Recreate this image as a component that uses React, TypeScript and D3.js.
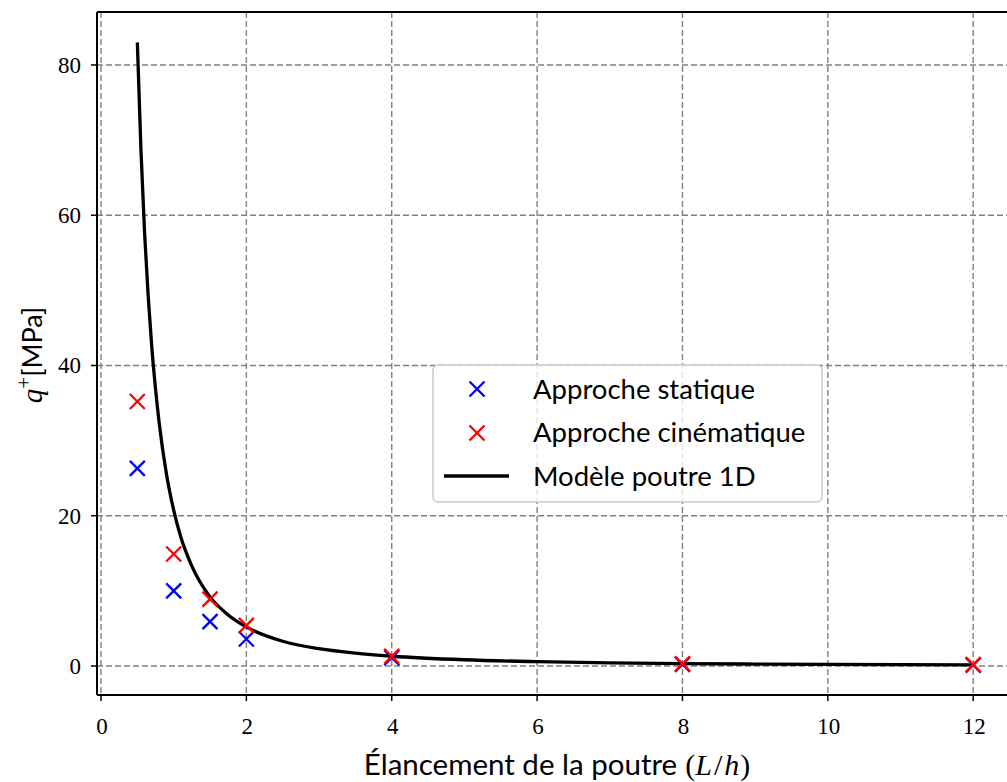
import React from "react";
import * as d3 from "d3";

const staticX = [0.5, 1, 1.5, 2, 4, 8, 12];
const staticY = [26.3, 10.0, 5.9, 3.6, 1.1, 0.22, 0.12];
const cineX = [0.5, 1, 1.5, 2, 4, 8, 12];
const cineY = [35.2, 14.9, 8.9, 5.4, 1.3, 0.3, 0.18];
const modelX = [0.5, 0.55, 0.6, 0.65, 0.7, 0.75, 0.8, 0.9, 1.0, 1.1, 1.25, 1.5, 1.75, 2, 2.5, 3, 3.5, 4, 5, 6, 7, 8, 9, 10, 11, 12];
const modelY = [83, 68.6, 57.6, 49.1, 42.3, 36.9, 32.4, 25.6, 20.75, 17.1, 13.3, 9.2, 6.8, 5.2, 3.3, 2.3, 1.7, 1.3, 0.83, 0.58, 0.42, 0.32, 0.26, 0.21, 0.17, 0.14];
const xTicks = [0, 2, 4, 6, 8, 10, 12];
const yTicks = [0, 20, 40, 60, 80];
const legendLabels = ["Approche statique", "Approche cinématique", "Modèle poutre 1D"];

export default function App() {
  const W = 1007, H = 782;
  const left = 97, right = 1015, top = 12, bottom = 695;
  const x = d3.scaleLinear().domain([-0.055, 12.575]).range([left, right]);
  const y = d3.scaleLinear().domain([-3.86, 87.05]).range([bottom, top]);
  const line = d3.line<number>().x((d) => x(modelX[d])).y((d) => y(modelY[d])).curve(d3.curveMonotoneX);
  const serif = "'Liberation Serif', 'DejaVu Serif', serif";
  const sans = "Lato, 'DejaVu Sans', sans-serif";
  const gridStyle = { stroke: "#808080", strokeWidth: 1.4, strokeDasharray: "6,3" };
  const cross = (cx: number, cy: number, color: string, key: string) => (
    <g key={key} stroke={color} strokeWidth={2.3}>
      <line x1={cx - 7.5} y1={cy - 7.5} x2={cx + 7.5} y2={cy + 7.5} />
      <line x1={cx - 7.5} y1={cy + 7.5} x2={cx + 7.5} y2={cy - 7.5} />
    </g>
  );
  return (
    <svg width={W} height={H} style={{ position: "absolute", left: 0, top: 0, background: "#fff" }}>
      <defs>
        <clipPath id="plot">
          <rect x={left} y={top} width={right - left} height={bottom - top} />
        </clipPath>
      </defs>
      {xTicks.map((t) => (
        <line key={"gx" + t} x1={x(t)} x2={x(t)} y1={top} y2={bottom} {...gridStyle} />
      ))}
      {yTicks.map((t) => (
        <line key={"gy" + t} x1={left} x2={right} y1={y(t)} y2={y(t)} {...gridStyle} />
      ))}
      <g clipPath="url(#plot)">
        <path d={line(modelX.map((_, i) => i)) || ""} fill="none" stroke="#000" strokeWidth={3.3} />
        {staticX.map((v, i) => cross(x(v), y(staticY[i]), "#0000ff", "s" + i))}
        {cineX.map((v, i) => cross(x(v), y(cineY[i]), "#ff0000", "c" + i))}
      </g>
      <line x1={left} x2={left} y1={top} y2={bottom} stroke="#000" strokeWidth={2} />
      <line x1={left} x2={right} y1={bottom} y2={bottom} stroke="#000" strokeWidth={2} />
      <line x1={left} x2={right} y1={top} y2={top} stroke="#000" strokeWidth={2} />
      {xTicks.map((t) => (
        <g key={"tx" + t}>
          <line x1={x(t)} x2={x(t)} y1={bottom} y2={bottom + 6} stroke="#000" strokeWidth={1.5} />
          <text x={x(t) + 1} y={734} textAnchor="middle" fontFamily={serif} fontSize={23} fill="#000">{t}</text>
        </g>
      ))}
      {yTicks.map((t) => (
        <g key={"ty" + t}>
          <line x1={left - 6} x2={left} y1={y(t)} y2={y(t)} stroke="#000" strokeWidth={1.5} />
          <text x={81} y={y(t) + 8} textAnchor="end" fontFamily={serif} fontSize={23} fill="#000">{t}</text>
        </g>
      ))}
      <text x={557} y={775} textAnchor="middle" fontFamily={sans} fontSize={29.5} fill="#000">
        <tspan>Élancement de la poutre</tspan>
        <tspan dx={8} fontFamily={serif} fontSize={30}>(</tspan>
        <tspan fontFamily={serif} fontStyle="italic" fontSize={30}>L</tspan>
        <tspan dx={2} fontFamily={serif} fontSize={30}>/</tspan>
        <tspan dx={2} fontFamily={serif} fontStyle="italic" fontSize={30}>h</tspan>
        <tspan dx={1} fontFamily={serif} fontSize={30}>)</tspan>
      </text>
      <text transform="translate(42,355) rotate(-90)" textAnchor="middle" fontFamily={sans} fontSize={27} fill="#000">
        <tspan fontFamily={serif} fontStyle="italic" fontSize={29}>q</tspan>
        <tspan dy={-11} fontSize={21} fontFamily={serif}>+</tspan>
        <tspan dy={11}>[MPa]</tspan>
      </text>
      <g>
        <rect x={433} y={365} width={389} height={137} rx={5} fill="#fff" fillOpacity={0.8} stroke="#cccccc" strokeWidth={1.5} />
        {cross(477, 389, "#0000ff", "l0")}
        {cross(477, 433, "#ff0000", "l1")}
        <line x1={444} x2={509} y1={476} y2={476} stroke="#000" strokeWidth={3.3} />
        {legendLabels.map((lab, i) => (
          <text key={lab} x={533} y={398.5 + i * 43.5} fontFamily={sans} fontSize={27.5} fill="#000">{lab}</text>
        ))}
      </g>
    </svg>
  );
}
